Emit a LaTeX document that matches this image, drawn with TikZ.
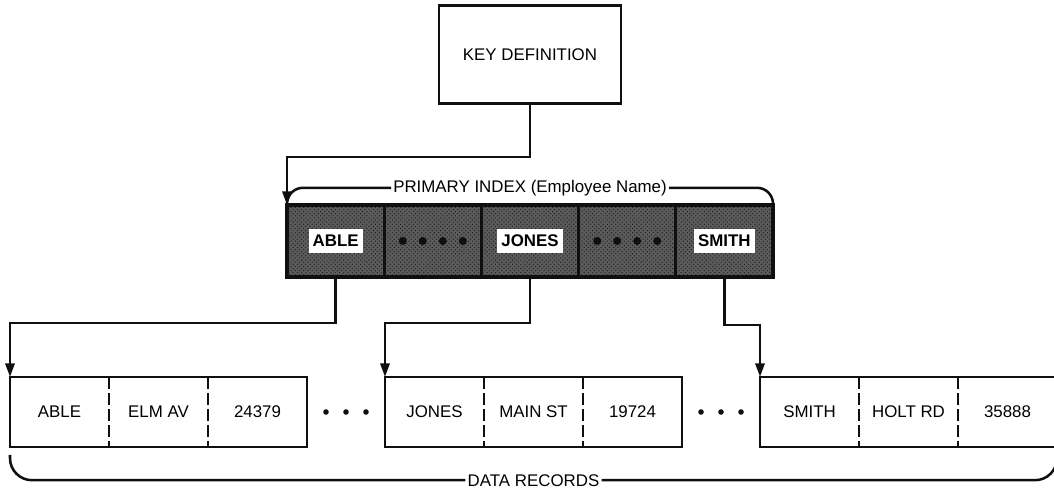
\documentclass[tikz,border=0pt]{standalone}
\usepackage{fontspec}
\setmainfont{Liberation Sans}
\usetikzlibrary{arrows.meta, positioning, calc, patterns}
\definecolor{inkcolor}{RGB}{15, 15, 15}
\definecolor{indexfill}{RGB}{92, 92, 92}
\definecolor{indexgrain}{RGB}{30, 30, 30}
\tikzstyle{keybox} = [rectangle, draw=inkcolor, line width=1.8pt, minimum width=4.55cm, minimum height=2.45cm,
                      text centered, font=\large]
\tikzstyle{indexcell} = [rectangle, draw=inkcolor, fill=indexfill, line width=2.4pt, outer sep=0pt,
                         minimum width=2.43cm, minimum height=1.8cm, inner sep=0pt,
                         postaction={pattern=crosshatch dots, pattern color=indexgrain}]
\tikzstyle{indexkey} = [rectangle, fill=white, inner xsep=0.1cm, inner ysep=0pt, minimum height=0.58cm,
                        font=\large\bfseries]
\tikzstyle{fieldcell} = [rectangle, outer sep=0pt, minimum width=2.475cm, minimum height=1.75cm, inner sep=0pt,
                         font=\large]
\tikzstyle{caption} = [inner sep=0.05cm, font=\large]
\tikzstyle{link} = [line width=1.8pt, draw=inkcolor]
\tikzstyle{arrow} = [link, -{Triangle[length=3.4mm, width=2.3mm]}]
\tikzstyle{divider} = [line width=1.8pt, draw=inkcolor, dash pattern=on 3mm off 1mm]

\begin{document}
\begin{tikzpicture}[node distance=1.95cm]
    \useasboundingbox (0,0) rectangle (26.35,12.25);

    % Primary index
    \node[indexcell] (ix1) at (8.39,6.225) {};
    \node[indexcell, right=0pt of ix1] (ix2) {};
    \node[indexcell, right=0pt of ix2] (ix3) {};
    \node[indexcell, right=0pt of ix3] (ix4) {};
    \node[indexcell, right=0pt of ix4] (ix5) {};
    \node[indexkey] (kable) at (ix1) {ABLE};
    \node[indexkey] (kjones) at (ix3) {JONES};
    \node[indexkey] (ksmith) at (ix5) {SMITH};
    \foreach \dx in {-0.75,-0.25,0.25,0.75} {
        \fill[inkcolor] ([xshift=\dx cm]ix2.center) circle (0.1);
        \fill[inkcolor] ([xshift=\dx cm]ix4.center) circle (0.1);
    }
    \node[caption] (pidx) at ([yshift=0.43cm]ix3.north) {PRIMARY INDEX (Employee Name)};
    \draw[link, rounded corners=0.4cm] (ix1.north west) |- (pidx.west);
    \draw[link, rounded corners=0.4cm] (pidx.east) -| (ix5.north east);

    % Key definition
    \node[keybox, above=2.5cm of ix3] (keydef) {KEY DEFINITION};
    \draw[arrow] (keydef.south) -- ++(0,-1.3) -| (ix1.north west);

    % Data records
    \node[fieldcell] (rec1a) at (1.4875,1.95) {ABLE};
    \node[fieldcell, right=0pt of rec1a] (rec1b) {ELM AV};
    \node[fieldcell, right=0pt of rec1b] (rec1c) {24379};
    \node[fieldcell, right=of rec1c] (rec2a) {JONES};
    \node[fieldcell, right=0pt of rec2a] (rec2b) {MAIN ST};
    \node[fieldcell, right=0pt of rec2b] (rec2c) {19724};
    \node[fieldcell, right=of rec2c] (rec3a) {SMITH};
    \node[fieldcell, right=0pt of rec3a] (rec3b) {HOLT RD};
    \node[fieldcell, right=0pt of rec3b] (rec3c) {35888};

    \draw[link] (rec1a.north west) rectangle (rec1c.south east);
    \draw[link] (rec2a.north west) rectangle (rec2c.south east);
    \draw[link] (rec3a.north west) rectangle (rec3c.south east);
    \draw[divider] (rec1a.north east) -- (rec1a.south east);
    \draw[divider] (rec1b.north east) -- (rec1b.south east);
    \draw[divider] (rec2a.north east) -- (rec2a.south east);
    \draw[divider] (rec2b.north east) -- (rec2b.south east);
    \draw[divider] (rec3a.north east) -- (rec3a.south east);
    \draw[divider] (rec3b.north east) -- (rec3b.south east);
    \foreach \dx in {-0.5,0,0.5} {
        \fill[inkcolor] ($(rec1c.east)!0.5!(rec2a.west)+(\dx,0)$) circle (0.07);
        \fill[inkcolor] ($(rec2c.east)!0.5!(rec3a.west)+(\dx,0)$) circle (0.07);
    }

    % Index to records
    \draw[arrow] (ix1.south) -- ++(0,-1.15) -| (rec1a.north west);
    \draw[arrow] (ix3.south) -- ++(0,-1.15) -| (rec2a.north west);
    \draw[arrow] (ix5.south) -- ++(0,-1.2) -| (rec3a.north west);

    % Data records brace
    \node[caption] (drec) at ([yshift=-0.83cm]rec2b.south) {DATA RECORDS};
    \draw[link, rounded corners=0.55cm] ([yshift=-0.2cm]rec1a.south west) |- (drec.west);
    \draw[link, rounded corners=0.55cm] (drec.east) -| ([yshift=-0.2cm]rec3c.south east);
\end{tikzpicture}
\end{document}
